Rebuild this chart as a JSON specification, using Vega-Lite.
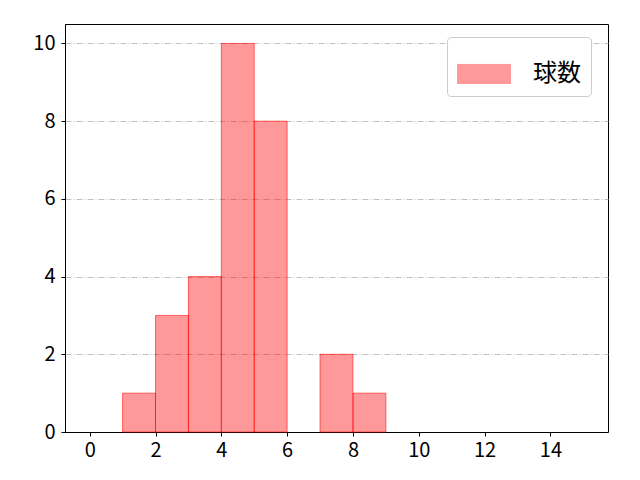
{
  "$schema": "https://vega.github.io/schema/vega-lite/v6.json",
  "width": 543,
  "height": 408,
  "autosize": {"type": "none"},
  "padding": {"left": 65, "top": 24, "right": 32, "bottom": 48},
  "background": "white",
  "config": {
    "font": "Noto Sans CJK JP",
    "view": {"stroke": "black", "strokeWidth": 1}
  },
  "data": {
    "values": [
      {"start": 1, "end": 2, "count": 1, "series": "球数"},
      {"start": 2, "end": 3, "count": 3, "series": "球数"},
      {"start": 3, "end": 4, "count": 4, "series": "球数"},
      {"start": 4, "end": 5, "count": 10, "series": "球数"},
      {"start": 5, "end": 6, "count": 8, "series": "球数"},
      {"start": 7, "end": 8, "count": 2, "series": "球数"},
      {"start": 8, "end": 9, "count": 1, "series": "球数"}
    ]
  },
  "mark": {"type": "rect", "fillOpacity": 0.4, "stroke": "#ff0000", "strokeOpacity": 0.55, "strokeWidth": 1},
  "encoding": {
    "x": {
      "field": "start", "type": "quantitative",
      "scale": {"domain": [-0.75, 15.75], "nice": false, "zero": false},
      "axis": {"title": null, "values": [0, 2, 4, 6, 8, 10, 12, 14], "grid": false, "domainColor": "black", "tickColor": "black", "tickSize": 4, "labelFontSize": 20, "labelColor": "black", "labelPadding": 4, "labelFlush": false}
    },
    "x2": {"field": "end"},
    "y": {
      "field": "count", "type": "quantitative",
      "scale": {"domain": [0, 10.5], "nice": false},
      "axis": {"title": null, "values": [0, 2, 4, 6, 8, 10], "grid": true, "gridColor": "#b0b0b0", "gridDash": [6, 2, 1, 2], "gridWidth": 0.8, "domainColor": "black", "tickColor": "black", "tickSize": 4, "labelFontSize": 20, "labelColor": "black", "labelPadding": 6}
    },
    "y2": {"datum": 0},
    "color": {
      "field": "series", "type": "nominal",
      "scale": {"range": ["#ff0000"]},
      "legend": {
        "title": null,
        "orient": "none",
        "legendX": 382,
        "legendY": 13,
        "padding": 10,
        "fillColor": "white",
        "strokeColor": "#cccccc",
        "cornerRadius": 4,
        "symbolType": "M-1,-0.36H1V0.36H-1Z",
        "symbolSize": 2809,
        "symbolOpacity": 0.4,
        "symbolStrokeWidth": 1,
        "labelFontSize": 24,
        "labelColor": "black",
        "labelOffset": 22
      }
    }
  }
}
